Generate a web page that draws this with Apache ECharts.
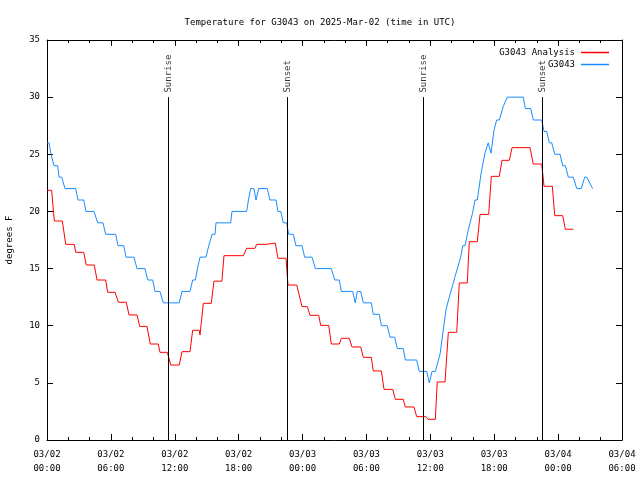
<!DOCTYPE html>
<html>
<head>
<meta charset="utf-8">
<script src="https://cdn.jsdelivr.net/npm/echarts@6/dist/echarts.min.js"></script>
<style>html,body{margin:0;padding:0;background:#fff}#c{width:640px;height:480px}</style>
</head>
<body>
<div id="c"></div>
<script>
// hours since 2025-03-02 00:00 UTC
const analysisHours = [0.00,0.44,0.56,0.69,1.44,1.76,2.56,2.70,3.45,3.69,4.44,4.70,5.51,5.70,6.39,6.70,7.45,7.70,8.45,8.71,9.39,9.70,10.45,10.61,11.30,11.62,12.42,12.68,13.43,13.68,14.30,14.37,14.68,15.43,15.68,16.43,16.62,18.44,18.75,19.53,19.69,20.57,20.63,21.44,21.69,22.45,22.63,23.45,23.95,24.45,24.70,25.52,25.70,26.46,26.70,27.45,27.64,28.39,28.64,29.46,29.71,30.46,30.64,31.40,31.65,32.47,32.71,33.46,33.65,34.47,34.72,35.59,35.78,36.47,36.65,37.38,37.69,38.48,38.72,39.47,39.66,40.41,40.67,41.48,41.73,42.48,42.73,43.42,43.67,45.36,45.67,46.46,46.68,47.46,47.68,48.43,48.68,49.43];
const analysisTemp = [21.85,21.85,20.5,19.16,19.16,17.12,17.12,16.42,16.42,15.31,15.31,14.0,14.0,12.92,12.92,12.05,12.05,10.94,10.94,9.94,9.94,8.4,8.4,7.67,7.67,6.56,6.56,7.73,7.73,9.6,9.6,9.19,11.96,11.96,13.9,13.9,16.13,16.13,16.77,16.77,17.12,17.12,17.23,17.23,15.9,15.9,13.56,13.56,11.67,11.67,10.91,10.91,10.03,10.03,8.4,8.4,8.9,8.9,8.14,8.14,7.23,7.23,6.04,6.04,4.43,4.43,3.56,3.56,2.89,2.89,2.04,2.04,1.81,1.81,5.08,5.08,9.42,9.42,13.74,13.74,17.35,17.35,19.74,19.74,23.07,23.07,24.47,24.47,25.58,25.58,24.15,24.15,22.2,22.2,19.63,19.63,18.44,18.44];

const obsHours = [0.00,0.19,0.28,0.38,0.52,0.66,1.00,1.13,1.38,1.50,1.69,2.70,2.91,3.45,3.66,4.41,4.76,5.26,5.51,6.45,6.67,7.20,7.42,8.17,8.45,9.20,9.46,9.93,10.14,10.61,10.92,12.42,12.68,13.43,13.68,13.93,14.13,14.37,14.93,15.19,15.50,15.78,15.87,17.25,17.37,18.75,18.92,19.13,19.44,19.63,19.88,20.69,20.94,21.51,21.69,21.95,22.19,22.51,22.70,23.13,23.38,23.95,24.20,24.89,25.20,26.70,27.02,27.45,27.64,28.71,28.95,29.14,29.46,29.71,30.46,30.64,31.21,31.40,31.96,32.21,32.65,32.90,33.46,33.65,34.72,34.96,35.66,35.90,36.16,36.47,36.91,37.47,37.78,38.32,38.85,39.04,39.26,39.57,39.95,40.20,40.41,40.76,41.13,41.44,41.70,41.98,42.23,42.48,42.85,43.23,44.73,44.92,45.43,45.67,46.46,46.68,46.93,47.17,47.40,47.68,48.18,48.43,48.68,48.96,49.43,49.75,50.18,50.50,50.69,51.25];
const obsTemp = [26,26,25.5,25,25,24,24,23,23,22.6,22,22,21,21,20,20,19,19,18,18,17,17,16,16,15,15,14,14,13,13,12,12,13,13,14,14,15,16,16,17,18,18,19,19,20,20,21,22,22,21,22,22,21,21,20,20,19,19,18,18,17,17,16,16,15,15,14,14,13,13,12,13,13,12,12,11,11,10,10,9,9,8,8,7,7,6,6,5,6,6,7.5,11.4,12.5,14.3,16,17,17,18.4,19.8,21,21,23.3,25.1,26,25.1,27.1,28,28,29.2,30,30,29,29,28,28,27,27,26,26,25,25,24,24,23,23,22,22,23,23,22];

const sunNames = ['Sunrise','Sunset','Sunrise','Sunset'];
const sunHours = [11.39,22.57,35.34,46.52];

const yTicks = [0,5,10,15,20,25,30,35];

const FONT = 'DejaVu Sans Mono';
const pair = (h, v) => h.map((x, i) => [x, v[i]]);
function xLabel(h) {
  const day = 2 + Math.floor(h / 24);
  const hr = Math.round(h % 24);
  return '03/' + String(day).padStart(2, '0') + '\n' + String(hr).padStart(2, '0') + ':00';
}

const chart = echarts.init(document.getElementById('c'), null, {renderer: 'canvas'});
const axisCommon = {
  axisLine: {show: true, onZero: false, lineStyle: {color: '#000', width: 1}},
  splitLine: {show: false}
};
chart.setOption({
  animation: false,
  backgroundColor: '#fff',
  title: {
    text: 'Temperature for G3043 on 2025-Mar-02 (time in UTC)',
    left: 'center', top: 13,
    textStyle: {fontFamily: FONT, fontSize: 9, fontWeight: 'normal', color: '#000'}
  },
  legend: {
    orient: 'vertical', right: 26, top: 43, align: 'right',
    itemWidth: 28, itemHeight: 1.5, itemGap: 3, icon: 'rect',
    textStyle: {fontFamily: FONT, fontSize: 9, color: '#000', padding: [0, 1, 0, 0]},
    data: ['G3043 Analysis', 'G3043']
  },
  grid: {left: 47, right: 18, top: 40, bottom: 40, containLabel: false, outerBoundsMode: 'none'},
  xAxis: [
    Object.assign({}, axisCommon, {
      type: 'value', min: 0, max: 54, interval: 6, position: 'bottom',
      axisTick: {inside: true, length: 6, lineStyle: {color: '#000'}},
      minorTick: {show: true, splitNumber: 3, length: 3, lineStyle: {color: '#000'}},
      axisLabel: {margin: 8, fontFamily: FONT, fontSize: 9, color: '#000', lineHeight: 14, formatter: xLabel}
    }),
    Object.assign({}, axisCommon, {
      type: 'value', min: 0, max: 54, interval: 6, position: 'top',
      axisTick: {inside: true, length: 6, lineStyle: {color: '#000'}},
      minorTick: {show: true, splitNumber: 3, length: 3, lineStyle: {color: '#000'}},
      axisLabel: {show: false}
    })
  ],
  yAxis: [
    Object.assign({}, axisCommon, {
      type: 'value', min: yTicks[0], max: yTicks[yTicks.length - 1], interval: 5, position: 'left',
      name: 'degrees F', nameLocation: 'middle', nameGap: 33, nameRotate: 90,
      nameTextStyle: {fontFamily: FONT, fontSize: 9, color: '#000'},
      axisTick: {inside: true, length: 6, lineStyle: {color: '#000'}},
      axisLabel: {margin: 7, fontFamily: FONT, fontSize: 9, color: '#000'}
    }),
    Object.assign({}, axisCommon, {
      type: 'value', min: yTicks[0], max: yTicks[yTicks.length - 1], interval: 5, position: 'right',
      axisTick: {inside: true, length: 6, lineStyle: {color: '#000'}},
      axisLabel: {show: false}
    })
  ],
  series: [
    {
      name: 'G3043 Analysis', type: 'line', data: pair(analysisHours, analysisTemp),
      showSymbol: false, symbol: 'none', color: '#ff0000',
      lineStyle: {color: '#ff0000', width: 1}
    },
    {
      name: 'G3043', type: 'line', data: pair(obsHours, obsTemp),
      showSymbol: false, symbol: 'none', color: '#1a8cff',
      lineStyle: {color: '#1a8cff', width: 1}
    },
    {
      name: 'sun', type: 'scatter', symbolSize: 0, silent: true,
      data: sunHours.map((h, i) => ({value: [h, 30.4], name: sunNames[i]})),
      label: {
        show: true, position: 'inside', rotate: 90, align: 'left', verticalAlign: 'middle',
        formatter: p => p.name, fontFamily: FONT, fontSize: 9, color: '#000'
      },
      markLine: {
        symbol: 'none', silent: true, label: {show: false},
        lineStyle: {color: '#000', width: 1, type: 'solid'},
        data: sunHours.map(h => [{coord: [h, 0]}, {coord: [h, 30]}])
      }
    }
  ]
});
</script>
</body>
</html>
